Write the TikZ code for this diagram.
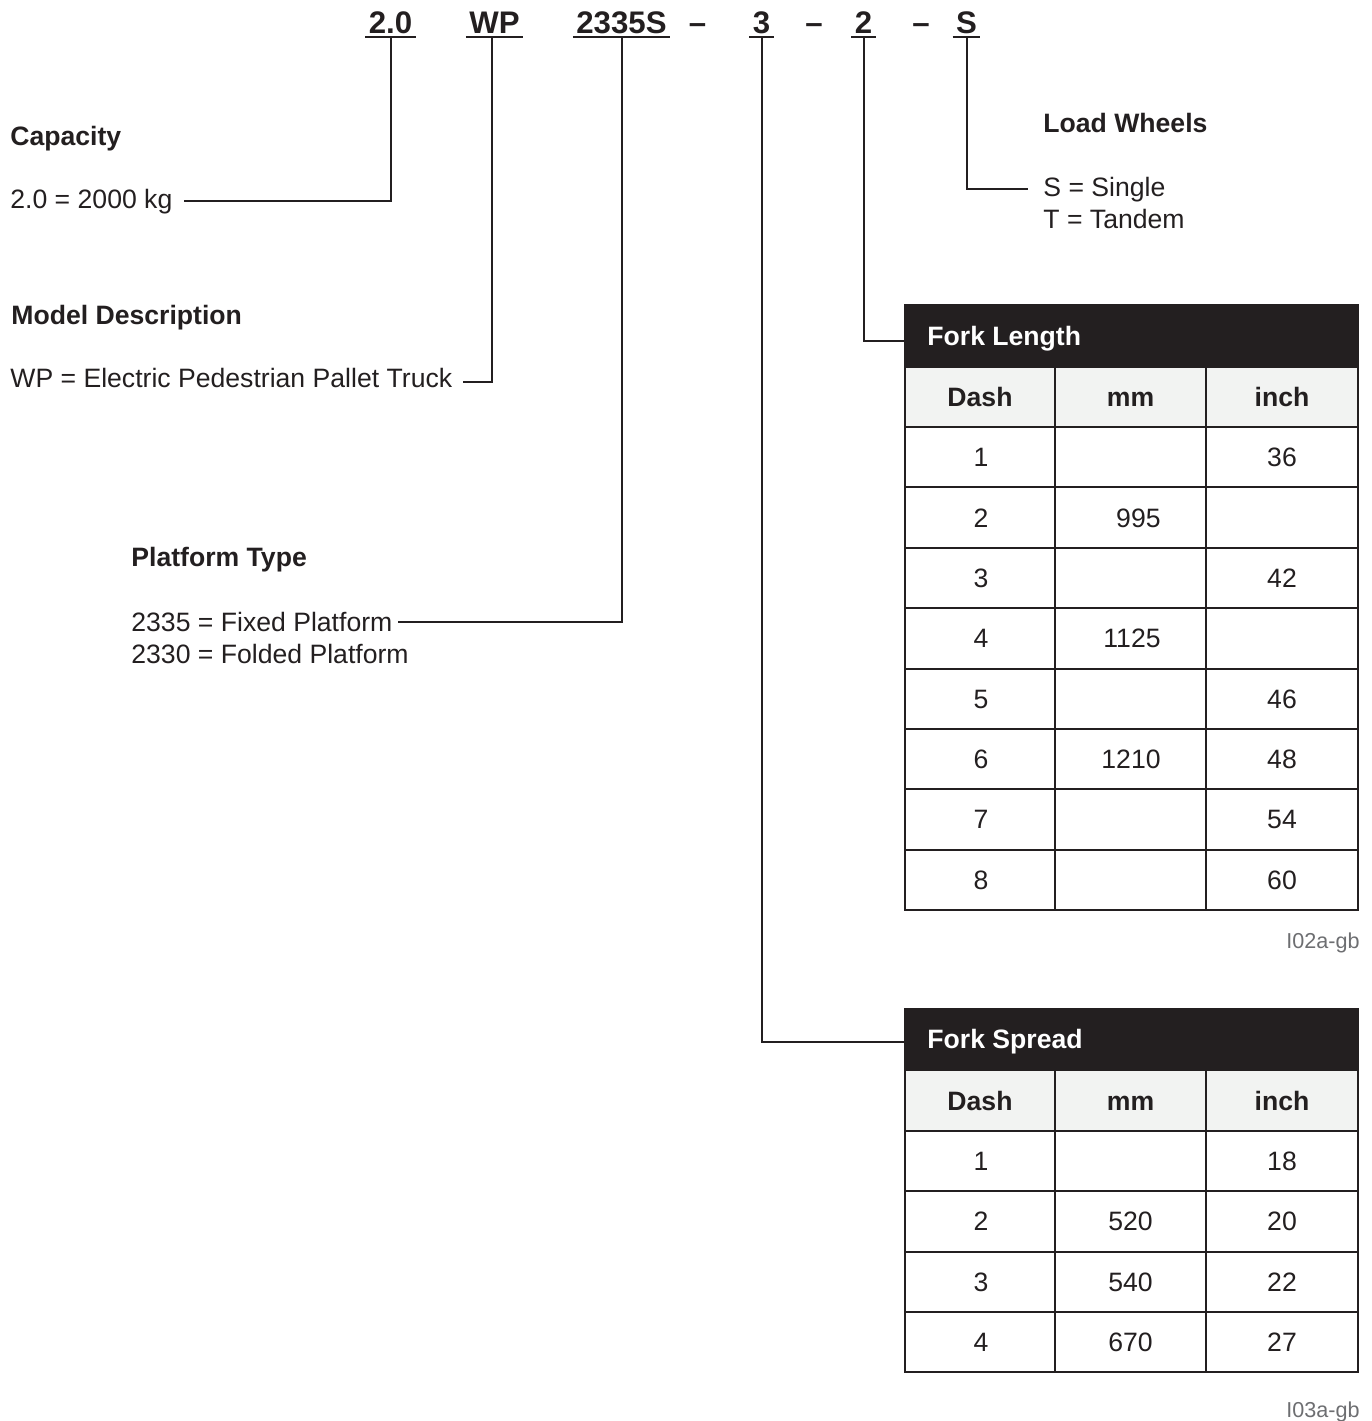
\documentclass[tikz,border=0pt]{standalone}
\usepackage{fontspec}
\setmainfont{Liberation Sans}
\usepackage{xcolor}
\usetikzlibrary{positioning}
\definecolor{cInk}{HTML}{231F20}
\definecolor{cHead}{HTML}{F2F3F2}
\definecolor{cNote}{HTML}{6D6E71}
\tikzset{
  code/.style={font=\fontsize{15.6}{18}\selectfont\bfseries,text=cInk,inner sep=0pt,anchor=base},
  ttl/.style={font=\fontsize{13.3}{16}\selectfont\bfseries,text=cInk,inner sep=0pt,anchor=base west},
  val/.style={font=\fontsize{13.3}{16}\selectfont,text=cInk,inner sep=0pt,anchor=base west},
  cell/.style={font=\fontsize{13.3}{16}\selectfont,text=cInk,inner sep=0pt,anchor=base},
  hcell/.style={cell,font=\fontsize{13.3}{16}\selectfont\bfseries},
  bar/.style={fill=cInk,draw=none,inner sep=0pt,anchor=north west,minimum width=226.5pt},
  note/.style={font=\fontsize{10.8}{13}\selectfont,text=cNote,inner sep=0pt,anchor=base east},
  conn/.style={line width=1pt,draw=cInk},
  uline/.style={line width=1pt,draw=cInk},
  grid/.style={line width=1pt,draw=cInk},
}
\begin{document}
\begin{tikzpicture}[x=0.5pt,y=-0.5pt]
  \useasboundingbox (0,0) rectangle (1372,1421);
  % model code
  \node[code] (hCap) at (390.5,33) {2.0};
  \node[code] (hModel) at (494.5,33) {WP};
  \node[code] (hPlat) at (621.5,33) {2335S};
  \node[code] (dA) at (697.5,33) {\textendash};
  \node[code] (hSpread) at (761.5,33) {3};
  \node[code] (dB) at (814,33) {\textendash};
  \node[code] (hLength) at (863.5,33) {2};
  \node[code] (dC) at (921,33) {\textendash};
  \node[code] (hWheel) at (966.5,33) {S};
  \foreach \n in {hCap,hModel,hPlat,hSpread,hLength,hWheel}
    \draw[uline] ([xshift=-1.5pt,yshift=-2pt]\n.base west) -- ([xshift=1.5pt,yshift=-2pt]\n.base east);

  % capacity
  \node[ttl] (capT) at (10,145) {Capacity};
  \node[val] (capV) at (10,208) {2.0 = 2000 kg};
  \draw[conn] ([yshift=-2pt]hCap.base) |- ([xshift=5.5pt,yshift=1pt]capV.mid east);

  % model
  \node[ttl] (modT) at (11,324) {Model Description};
  \node[val] (modV) at (10,387) {WP = Electric Pedestrian Pallet Truck};
  \draw[conn] ([xshift=-1.25pt,yshift=-2pt]hModel.base) |- ([xshift=5pt]modV.mid east);

  % platform
  \node[ttl] (platT) at (131,566) {Platform Type};
  \node[val] (platV) at (131,631) {2335 = Fixed Platform};
  \node[val] (platW) at ([yshift=-16pt]platV.base west) {2330 = Folded Platform};
  \draw[conn] ([yshift=-2pt]hPlat.base) |- ([xshift=2.5pt,yshift=2pt]platV.mid east);

  % load wheels
  \node[ttl] (whlT) at (1043,132) {Load Wheels};
  \node[val] (whlV) at (1043,196) {S = Single};
  \node[val] (whlW) at ([yshift=-16pt]whlV.base west) {T = Tandem};
  \draw[conn] ([yshift=-2pt]hWheel.base) |- ([xshift=-7.5pt,yshift=1pt]whlV.mid west);

  % fork length table
  \node[bar,minimum height=31.5pt] (lenBar) at (905,304) {};
  \node[ttl,text=white] (lenT) at (927,345) {Fork Length};
  \fill[cHead] (905,367) rectangle (1358,427);
  \draw[grid] (905,304) -- (905,367) (1358,304) -- (1358,367);
  \draw[grid] (905,367) rectangle (1358,910);
  \foreach \k in {0,...,7}
    \draw[grid] (905,{427+\k*60.375}) -- (1358,{427+\k*60.375});
  \draw[grid] (1055,367) -- (1055,910) (1206,367) -- (1206,910);
  \node[hcell] (lenH1) at (980,406.5) {Dash};
  \node[hcell] (lenH2) at (1130.5,406.5) {mm};
  \node[hcell] (lenH3) at (1282,406.5) {inch};
  \foreach \d/\mm/\vin [count=\i] in {1//36,2/995/,3//42,4/1125/,5//46,6/1210/48,7//54,8//60} {
    \node[cell] (lenD\i) at (981,{427+(\i-0.5)*60.375+9.5}) {\d};
    \node[cell,anchor=base east] (lenM\i) at (1161,{427+(\i-0.5)*60.375+9.5}) {\mm};
    \node[cell] (lenI\i) at (1282,{427+(\i-0.5)*60.375+9.5}) {\vin};
  }
  \draw[conn] ([yshift=-2pt]hLength.base) |- ([yshift=-2.75pt]lenBar.west);
  \node[note] (lenNote) at (1360,948) {I02a-gb};

  % fork spread table
  \node[bar,minimum height=31pt] (sprBar) at (905,1008) {};
  \node[ttl,text=white] (sprT) at (927,1048.5) {Fork Spread};
  \fill[cHead] (905,1070) rectangle (1358,1131);
  \draw[grid] (905,1008) -- (905,1070) (1358,1008) -- (1358,1070);
  \draw[grid] (905,1070) rectangle (1358,1372);
  \foreach \k in {0,...,3}
    \draw[grid] (905,{1131+\k*60.25}) -- (1358,{1131+\k*60.25});
  \draw[grid] (1055,1070) -- (1055,1372) (1206,1070) -- (1206,1372);
  \node[hcell] (sprH1) at (980,1110) {Dash};
  \node[hcell] (sprH2) at (1130.5,1110) {mm};
  \node[hcell] (sprH3) at (1282,1110) {inch};
  \foreach \d/\mm/\vin [count=\i] in {1//18,2/520/20,3/540/22,4/670/27} {
    \node[cell] (sprD\i) at (981,{1131+(\i-0.5)*60.25+9.5}) {\d};
    \node[cell] (sprM\i) at (1130.5,{1131+(\i-0.5)*60.25+9.5}) {\mm};
    \node[cell] (sprI\i) at (1282,{1131+(\i-0.5)*60.25+9.5}) {\vin};
  }
  \draw[conn] ([yshift=-2pt]hSpread.base) |- ([yshift=-1.5pt]sprBar.west);
  \node[note] (sprNote) at (1360,1417) {I03a-gb};
\end{tikzpicture}
\end{document}
